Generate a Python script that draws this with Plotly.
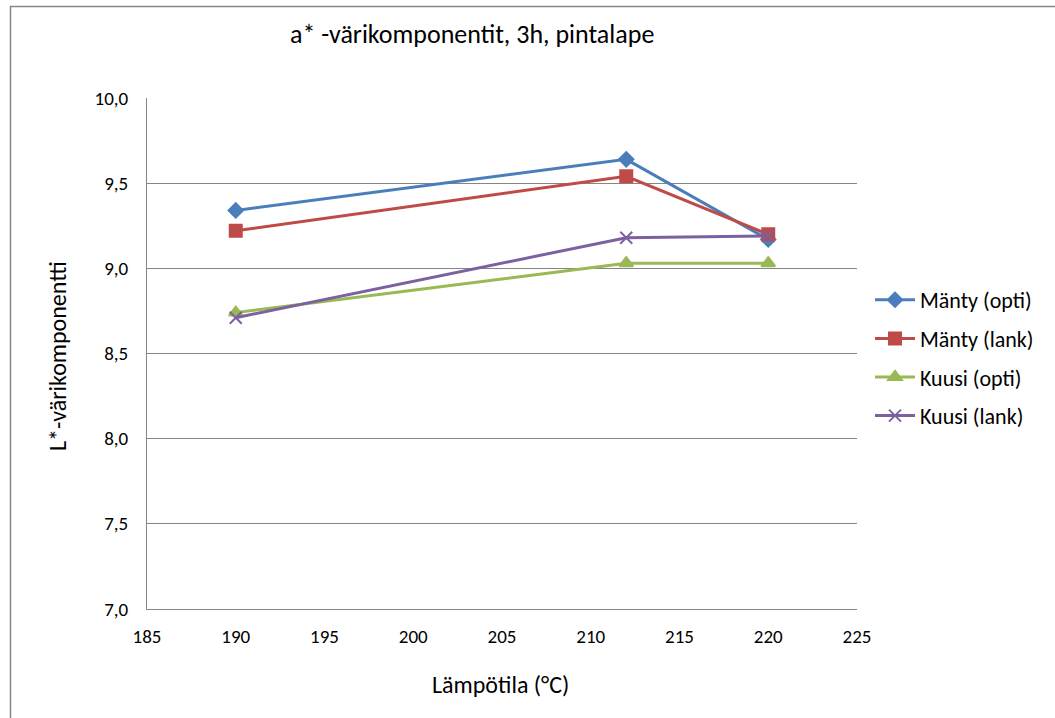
import plotly.graph_objects as go

# Treatment temperatures (°C)
temperatures = [190, 212, 220]

# a* colour component per wood type / board type
manty_opti = [9.34, 9.64, 9.17]
manty_lank = [9.22, 9.54, 9.20]
kuusi_opti = [8.74, 9.03, 9.03]
kuusi_lank = [8.71, 9.18, 9.19]

series_names = ["Mänty (opti)", "Mänty (lank)", "Kuusi (opti)", "Kuusi (lank)"]
series_values = [manty_opti, manty_lank, kuusi_opti, kuusi_lank]
series_colors = ["#4A7EBB", "#BE4B48", "#98B954", "#7D60A0"]
series_symbols = ["diamond", "square", "triangle-up", "x-thin"]
series_sizes = [11, 12, 12, 12]

FONT = "Carlito, Lato, Calibri, sans-serif"

fig = go.Figure()
for i, (name, vals, col, sym, size) in enumerate(zip(series_names, series_values, series_colors,
                                                     series_symbols, series_sizes)):
    fig.add_trace(go.Scatter(
        x=temperatures, y=vals, name=name, mode="lines+markers",
        legendgroup=f"g{i}",
        line=dict(color=col, width=3),
        marker=dict(symbol=sym, size=size, color=col,
                    line=dict(color=col, width=2)),
    ))

# plot area: 147..857 px horizontally, 98..609 px vertically
L, R, T, B = 147, 198, 98, 109
W, H = 1055 - L - R, 718 - T - B


def px(xp):
    return (xp - L) / W


def py(yp):
    return (718 - B - yp) / H


fig.update_layout(
    width=1055, height=718,
    margin=dict(l=L, r=R, t=T, b=B),
    paper_bgcolor="white", plot_bgcolor="white",
    separators=", ",
    font=dict(family=FONT, color="#000000"),
    showlegend=True,
    legend=dict(x=px(870), y=py(279), xanchor="left", yanchor="top",
                font=dict(size=22, family=FONT), tracegroupgap=7,
                itemwidth=40, bgcolor="rgba(0,0,0,0)"),
    xaxis=dict(range=[185, 225], dtick=5, tick0=185, showgrid=False,
               showline=True, linecolor="#868686", linewidth=1,
               ticks="", tickfont=dict(size=19, family=FONT),
               ticklabelstandoff=10,
               zeroline=False, fixedrange=True),
    yaxis=dict(range=[7.0, 10.0], dtick=0.5, tick0=7.0, tickformat=".1f",
               showgrid=True, gridcolor="#868686", gridwidth=1,
               showline=True, linecolor="#868686", linewidth=1,
               ticks="", tickfont=dict(size=19, family=FONT),
               ticklabelstandoff=14,
               zeroline=False, fixedrange=True),
    annotations=[
        dict(text="a* -värikomponentit, 3h, pintalape", xref="paper", yref="paper",
             x=px(472), y=py(34), xanchor="center", yanchor="middle", showarrow=False,
             font=dict(size=26, family=FONT)),
        dict(text="Lämpötila (°C)", xref="paper", yref="paper",
             x=px(500), y=py(684), xanchor="center", yanchor="middle", showarrow=False,
             font=dict(size=24, family=FONT)),
        dict(text="L*-värikomponentti", xref="paper", yref="paper",
             x=px(57), y=py(356), xanchor="center", yanchor="middle", showarrow=False,
             textangle=-90, font=dict(size=24, family=FONT)),
    ],
    shapes=[
        dict(type="rect", xref="paper", yref="paper",
             x0=px(10.5), x1=px(1070), y0=py(6.5), y1=py(740),
             line=dict(color="#868686", width=1.5), fillcolor="rgba(0,0,0,0)",
             layer="below"),
    ],
)

fig.write_html("out.html")
